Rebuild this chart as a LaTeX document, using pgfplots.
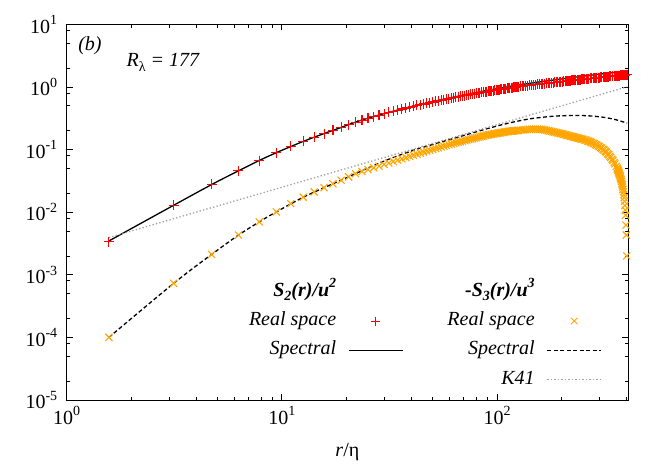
\documentclass[border=0pt]{standalone}
\usepackage{fontspec}
\setmainfont{Liberation Serif}
\usepackage{pgfplots}
\pgfplotsset{compat=1.18}
\definecolor{gpred}{RGB}{255,0,0}
\definecolor{gporange}{RGB}{255,165,0}
\definecolor{gpgray}{RGB}{160,160,160}
\newcommand\fs{\fontsize{20}{24}\selectfont}
\newcommand\sups[1]{\raisebox{0.42em}{\fontsize{14}{14}\selectfont #1}}
\newcommand\subs[1]{\raisebox{-0.22em}{\fontsize{14}{14}\selectfont #1}}
\pgfplotsset{mylegend/.style={legend image code/.code={\draw[mark repeat=2,mark phase=2,##1] plot coordinates {(0pt,0pt) (27pt,0pt) (54pt,0pt)};}}}
\begin{document}
\begin{tikzpicture}
\begin{axis}[
  scale only axis, width=561.3pt, height=375.7pt,
  xmode=log, ymode=log,
  xmin=1, xmax=406, ymin=1e-5, ymax=10,
  xtick={1,10,100}, xticklabels={10\sups{0},10\sups{1},10\sups{2}},
  ytick={1e-5,1e-4,1e-3,1e-2,1e-1,1,10},
  yticklabels={10\sups{-5},10\sups{-4},10\sups{-3},10\sups{-2},10\sups{-1},10\sups{0},10\sups{1}},
  minor xtick={2,3,4,5,6,7,8,9,20,30,40,50,60,70,80,90,200,300,400},
  minor ytick={2e-5,5e-5,8e-5,2e-4,5e-4,8e-4,2e-3,5e-3,8e-3,0.02,0.05,0.08,0.2,0.5,0.8,2,5,8},
  tick align=inside,
  major tick length=6pt, minor tick length=3.5pt,
  every tick/.style={black, line width=0.8pt},
  axis line style={line width=1pt},
  tick label style={font=\fs},
  xticklabel style={yshift=-3pt},
  yticklabel style={xshift=-6pt},
  xlabel={\textit{r}/η},
  xlabel style={font=\fs, at={(axis description cs:0.5,-0.138)}, anchor=center},
  legend columns=2,
  legend cell align=right,
  legend plot pos=right,
  legend style={draw=none, fill=none, font=\fs, inner sep=0pt,
    at={(0.954,0.314)}, anchor=north east,
    row sep=10.3pt,
    nodes={inner sep=0pt, text height=14pt, text depth=5pt},
    /tikz/every odd column/.append style={column sep=12pt},
    /tikz/every even column/.append style={column sep=44pt}},
]
% S2 real space
\addplot[forget plot, only marks, mark=+, color=gpred, mark size=5pt, mark options={solid, line width=1.1pt, draw=gpred}] coordinates {
(1.5708,0.00336) (3.1416,0.0129) (4.7124,0.0277) (6.2832,0.0456) (7.8540,0.0668)
(9.4248,0.0885) (10.996,0.112) (12.566,0.135) (14.137,0.157) (15.708,0.179)
(17.279,0.202) (18.850,0.226) (20.420,0.250) (21.991,0.274) (23.562,0.2953)
(25.133,0.3164) (26.704,0.3356) (28.274,0.3547) (29.845,0.3738) (31.416,0.3927)
(32.987,0.4100) (34.558,0.4267) (36.128,0.4433) (37.699,0.4599) (39.270,0.4764)
(40.841,0.4913) (42.412,0.5058) (43.982,0.5199) (45.553,0.5340) (47.124,0.5479)
(48.695,0.5617) (50.266,0.5753) (51.836,0.5882) (53.407,0.6010) (54.978,0.6136)
(56.549,0.6262) (58.120,0.6387) (59.690,0.6512) (61.261,0.6635) (62.832,0.6756)
(64.403,0.6865) (65.974,0.6973) (67.544,0.7078) (69.115,0.7183) (70.686,0.7287)
(72.257,0.7391) (73.828,0.7493) (75.398,0.7594) (76.969,0.7695) (78.540,0.7795)
(80.111,0.7888) (81.682,0.7980) (83.252,0.8068) (84.823,0.8155) (86.394,0.8243)
(87.965,0.8330) (89.535,0.8415) (91.106,0.8500) (92.677,0.8585) (94.248,0.8670)
(95.819,0.8753) (97.390,0.8836) (98.960,0.8916) (100.531,0.8995) (102.10,0.9065)
(103.673,0.9135) (105.24,0.9204) (106.814,0.9273) (108.38,0.9340) (109.956,0.9406)
(111.53,0.9473) (113.098,0.9539) (114.67,0.9604) (116.239,0.9669) (117.81,0.9733)
(119.381,0.9797) (120.95,0.9861) (122.522,0.9924) (124.09,0.9988) (125.664,1.0051)
(128.81,1.0159) (131.947,1.0266) (135.09,1.0371) (138.230,1.0476) (141.37,1.0578)
(144.514,1.0680) (147.66,1.0780) (150.797,1.0879) (153.94,1.0976) (157.080,1.1073)
(160.22,1.1160) (163.363,1.1247) (166.50,1.1331) (169.646,1.1414) (172.79,1.1495)
(175.930,1.1576) (179.07,1.1655) (182.213,1.1734) (185.35,1.1810) (188.496,1.1885)
(191.64,1.1961) (194.779,1.2037) (197.92,1.2111) (201.062,1.2185) (204.20,1.2254)
(207.346,1.2323) (210.49,1.2394) (213.629,1.2465) (216.77,1.2532) (219.912,1.2598)
(223.05,1.2665) (226.195,1.2732) (229.34,1.2799) (232.478,1.2865) (235.62,1.2931)
(238.762,1.2996) (241.90,1.3059) (245.045,1.3122) (248.19,1.3185) (251.328,1.3247)
(256.04,1.3337) (259.182,1.3397) (263.89,1.3488) (267.036,1.3549) (271.75,1.3635)
(274.890,1.3693) (279.60,1.3779) (282.744,1.3836) (287.46,1.3921) (290.598,1.3977)
(295.31,1.4063) (298.452,1.4120) (303.16,1.4200) (306.306,1.4254) (311.02,1.4333)
(314.160,1.4386) (318.87,1.4460) (322.014,1.4509) (326.73,1.4582) (329.868,1.4630)
(334.58,1.4699) (337.722,1.4745) (342.43,1.4812) (345.576,1.4857) (350.29,1.4926)
(353.430,1.4971) (358.14,1.5038) (361.284,1.5082) (366.00,1.5147) (369.138,1.5190)
(373.85,1.5255) (376.992,1.5299) (381.70,1.5360) (384.846,1.5401) (389.56,1.5465)
(392.700,1.5508) (397.41,1.5570) (402.125,1.5623)
};
% S2 spectral
\addplot[forget plot, black, line width=1.3pt, smooth] coordinates {
(1.5708,0.003467) (3.1416,0.01288) (4.7124,0.02754) (6.2832,0.04571) (7.854,0.06683)
(9.4248,0.08913) (12.566,0.1349) (15.708,0.1799) (18.850,0.2254) (21.991,0.2742)
(25.12,0.3162) (31.62,0.3954) (39.81,0.4819) (50.12,0.5794) (63.10,0.6902)
(79.43,0.8110) (100.0,0.9397) (125.9,1.0715) (158.5,1.2050) (199.5,1.3397)
(251.2,1.4859) (316.2,1.6368) (402.1,1.7947)
};
% -S3 real space
\addplot[forget plot, only marks, mark=x, color=gporange, mark size=5pt, mark options={solid, line width=1.1pt, draw=gporange}] coordinates {
(1.5708,1.0e-4) (3.1416,7.3e-4) (4.7124,0.00211) (6.2832,0.0043) (7.8540,0.0070)
(9.4248,0.0101) (10.996,0.0137) (12.566,0.0173) (14.137,0.0210) (15.708,0.0246)
(17.279,0.0284) (18.850,0.0324) (20.420,0.0366) (21.991,0.0412) (23.562,0.04448)
(25.133,0.04777) (26.704,0.05106) (28.274,0.05437) (29.845,0.05772) (31.416,0.06106)
(32.987,0.06437) (34.558,0.06768) (36.128,0.07101) (37.699,0.07435) (39.270,0.07771)
(40.841,0.08110) (42.412,0.08447) (43.982,0.08784) (45.553,0.09109) (47.124,0.09423)
(48.695,0.09739) (50.266,0.1005) (51.836,0.1037) (53.407,0.1068) (54.978,0.1100)
(56.549,0.1131) (58.120,0.1162) (59.690,0.1193) (61.261,0.1225) (62.832,0.1256)
(64.403,0.1283) (65.974,0.1310) (67.544,0.1337) (69.115,0.1363) (70.686,0.1390)
(72.257,0.1416) (73.828,0.1442) (75.398,0.1468) (76.969,0.1494) (78.540,0.1520)
(80.111,0.1546) (81.682,0.1571) (83.252,0.1597) (84.823,0.1622) (86.394,0.1648)
(87.965,0.1673) (89.535,0.1694) (91.106,0.1714) (92.677,0.1732) (94.248,0.1750)
(95.819,0.1768) (97.390,0.1785) (98.960,0.1802) (100.531,0.1819) (102.10,0.1836)
(103.673,0.1853) (105.24,0.1870) (106.814,0.1887) (108.38,0.1904) (109.956,0.1920)
(111.53,0.1935) (113.098,0.1949) (114.67,0.1959) (116.239,0.1968) (117.81,0.1977)
(119.381,0.1986) (120.95,0.1995) (122.522,0.2004) (124.09,0.2013) (125.664,0.2022)
(128.81,0.2039) (131.947,0.2056) (135.09,0.2073) (138.230,0.2090) (141.37,0.2100)
(144.514,0.2109) (147.66,0.2111) (150.797,0.2113) (153.94,0.2114) (157.080,0.2115)
(160.22,0.2100) (163.363,0.2085) (166.50,0.2057) (169.646,0.2028) (172.79,0.2001)
(175.930,0.1973) (179.07,0.1946) (182.213,0.1918) (185.35,0.1894) (188.496,0.1870)
(191.64,0.1846) (194.779,0.1822) (197.92,0.1801) (201.062,0.1779) (204.20,0.1752)
(207.346,0.1724) (210.49,0.1702) (213.629,0.1680) (216.77,0.1658) (219.912,0.1636)
(223.05,0.1613) (226.195,0.1590) (229.34,0.1573) (232.478,0.1555) (235.62,0.1537)
(238.762,0.1518) (241.90,0.1499) (245.045,0.1480) (248.19,0.1465) (251.328,0.1450)
(256.04,0.1421) (259.182,0.1401) (263.89,0.1370) (267.036,0.1350) (271.75,0.1318)
(274.890,0.1296) (279.60,0.1262) (282.744,0.1239) (287.46,0.1203) (290.598,0.1179)
(295.31,0.1141) (298.452,0.1115) (303.16,0.1075) (306.306,0.1049) (311.02,0.1008)
(314.160,0.0980) (318.87,0.0937) (322.014,0.0908) (326.73,0.0860) (329.868,0.0828)
(334.58,0.0781) (337.722,0.0750) (342.43,0.0702) (345.576,0.0670) (350.29,0.0621)
(353.430,0.0589) (358.14,0.0540) (361.284,0.0507) (362.85,0.0489)
(364.43,0.0472) (366.00,0.0455) (367.57,0.0437) (369.138,0.0420) (370.71,0.0400)
(372.28,0.0382) (373.85,0.0364) (375.42,0.0347) (376.992,0.0330) (378.56,0.0311)
(380.13,0.0290) (381.70,0.0271) (383.28,0.0252) (384.846,0.0232) (386.42,0.0212)
(387.99,0.0191) (389.56,0.0170) (391.13,0.0149) (392.700,0.0128) (394.271,0.01075)
(395.842,0.0089) (397.412,0.0062) (398.983,0.0043) (400.554,0.0020)
};
% -S3 spectral
\addplot[forget plot, black, line width=1.3pt, dash pattern=on 4pt off 2.5pt, smooth] coordinates {
(1.5708,1.0e-4) (3.1416,7.3e-4) (4.7124,0.00211) (6.2832,0.0043) (7.854,0.0070)
(9.4248,0.0101) (12.566,0.0173) (15.708,0.0246) (18.850,0.0324) (21.991,0.0412)
(25.12,0.0507) (31.62,0.0708) (39.81,0.0944) (43.85,0.1050) (63.10,0.1510)
(89.13,0.2133) (112.2,0.2624) (141.3,0.3083) (177.8,0.3381) (199.5,0.3459)
(223.9,0.3503) (251.2,0.3487) (281.8,0.3404) (316.2,0.3251) (354.8,0.3006)
(402.1,0.2642)
};
% K41
\addplot[forget plot, gpgray, line width=1.3pt, dash pattern=on 1.3pt off 2.2pt] coordinates {
(1.5708,0.003927) (402.1,1.005)
};
\addlegendimage{empty legend}
\addlegendentry{\textbf{\textit{S\subs{2}(r)/u\sups{2}}}}
\addlegendimage{empty legend}
\addlegendentry{\textbf{\textit{-S\subs{3}(r)/u\sups{3}}}}
\addlegendimage{only marks, mark=+, color=gpred, mark size=4.5pt, mark options={solid, line width=0.9pt, draw=gpred}, mylegend}
\addlegendentry{\textit{Real space}}
\addlegendimage{only marks, mark=x, color=gporange, mark size=4.5pt, mark options={solid, line width=0.9pt, draw=gporange}, mylegend}
\addlegendentry{\textit{Real space}}
\addlegendimage{black, line width=1.3pt, mylegend}
\addlegendentry{\textit{Spectral}}
\addlegendimage{black, line width=1.3pt, dash pattern=on 4pt off 2.5pt, mylegend}
\addlegendentry{\textit{Spectral}}
\addlegendimage{empty legend}
\addlegendentry{}
\addlegendimage{gpgray, line width=1.3pt, dash pattern=on 1.3pt off 2.2pt, mylegend}
\addlegendentry{\textit{K41}}
\node[font=\fs\itshape, anchor=center] at (rel axis cs:0.0415,0.942) {(b)};
\node[font=\fs\itshape, anchor=base west] at (rel axis cs:0.1005,0.887) {R\subs{\upshape λ} = 177};
\end{axis}
\pgfresetboundingbox
\useasboundingbox (-66.7pt,-65pt) rectangle (597.3pt,400pt);
\end{tikzpicture}
\end{document}
